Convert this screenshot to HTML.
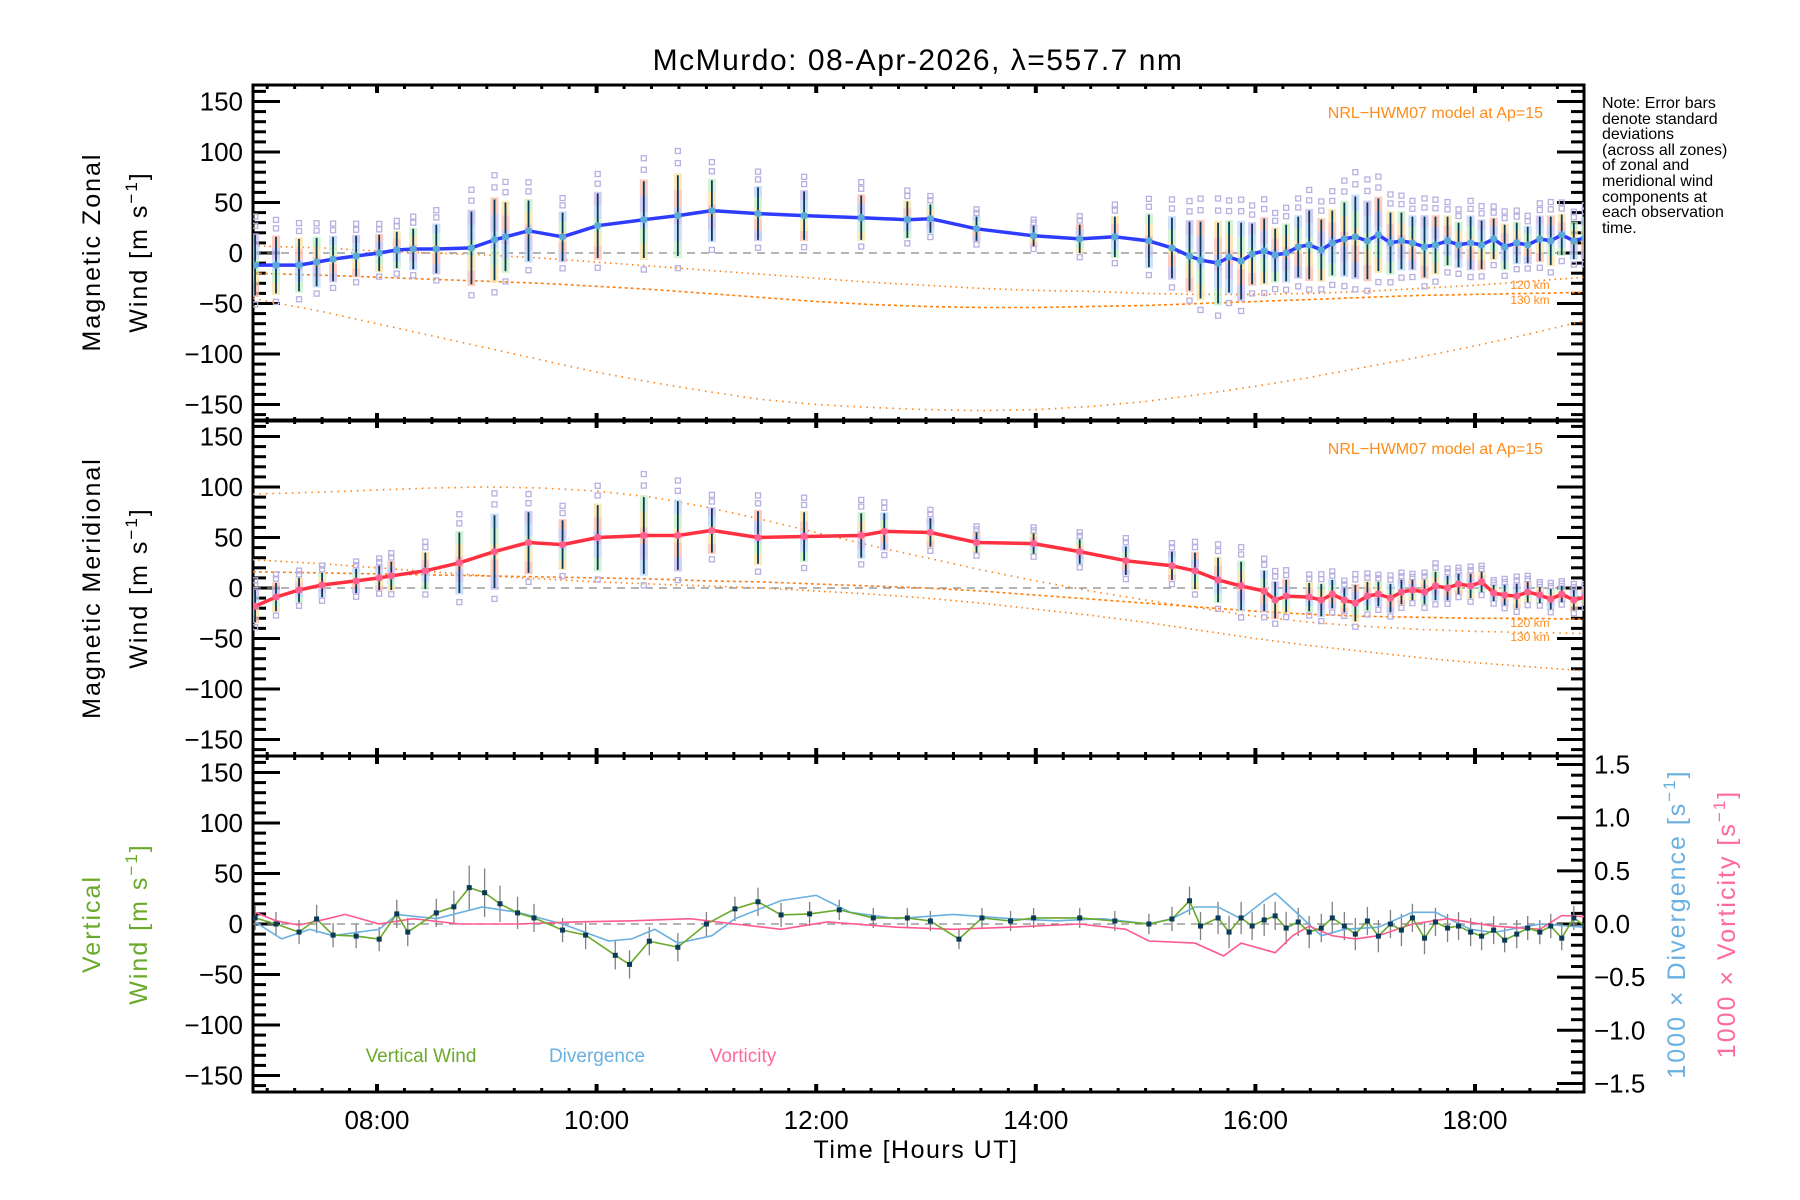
<!DOCTYPE html>
<html><head><meta charset="utf-8"><style>
html,body{margin:0;padding:0;background:#fff}
svg{display:block;font-family:"Liberation Sans",sans-serif}
</style></head><body>
<svg id="chart" width="1800" height="1200" viewBox="0 0 1800 1200" xmlns="http://www.w3.org/2000/svg">
<text x="918" y="70" font-size="30" text-anchor="middle" letter-spacing="1.5">McMurdo: 08-Apr-2026, λ=557.7 nm</text>
<g id="axes"></g>
<g id="marks"></g>
<g font-size="25" letter-spacing="2">
<text transform="translate(100,252) rotate(-90)" text-anchor="middle">Magnetic  Zonal</text>
<text transform="translate(147,252) rotate(-90)" text-anchor="middle">Wind  [m  s<tspan dy="-10" font-size="17">−1</tspan><tspan dy="10">]</tspan></text>
<text transform="translate(100,588) rotate(-90)" text-anchor="middle">Magnetic  Meridional</text>
<text transform="translate(147,588) rotate(-90)" text-anchor="middle">Wind  [m  s<tspan dy="-10" font-size="17">−1</tspan><tspan dy="10">]</tspan></text>
<text transform="translate(100,924) rotate(-90)" text-anchor="middle" fill="#6aaa2a">Vertical</text>
<text transform="translate(147,924) rotate(-90)" text-anchor="middle" fill="#6aaa2a">Wind  [m  s<tspan dy="-10" font-size="17">−1</tspan><tspan dy="10">]</tspan></text>
<text transform="translate(1685,924) rotate(-90)" text-anchor="middle" fill="#6ab0e0">1000 × Divergence  [s<tspan dy="-10" font-size="17">−1</tspan><tspan dy="10">]</tspan></text>
<text transform="translate(1735,924) rotate(-90)" text-anchor="middle" fill="#ff6a9a">1000 × Vorticity  [s<tspan dy="-10" font-size="17">−1</tspan><tspan dy="10">]</tspan></text>
</g>
<text x="916" y="1158" font-size="25" text-anchor="middle" letter-spacing="1.5">Time  [Hours  UT]</text>
<g font-size="16">
<text x="1602" y="108">Note: Error bars</text><text x="1602" y="124">denote standard</text><text x="1602" y="139">deviations</text><text x="1602" y="155">(across all zones)</text><text x="1602" y="170">of zonal and</text><text x="1602" y="186">meridional wind</text><text x="1602" y="202">components at</text><text x="1602" y="217">each observation</text><text x="1602" y="233">time.</text>
</g>
<g font-size="16" fill="#ff8c1a">
<text x="1543" y="118" text-anchor="end">NRL−HWM07 model at Ap=15</text>
<text x="1543" y="454" text-anchor="end">NRL−HWM07 model at Ap=15</text>
<text x="1530" y="289" font-size="12" text-anchor="middle">120 km</text>
<text x="1530" y="304" font-size="12" text-anchor="middle">130 km</text>
<text x="1530" y="627" font-size="12" text-anchor="middle">120 km</text>
<text x="1530" y="641" font-size="12" text-anchor="middle">130 km</text>
</g>
<g font-size="19">
<text x="421" y="1062" text-anchor="middle" fill="#6aaa2a">Vertical Wind</text>
<text x="597" y="1062" text-anchor="middle" fill="#6ab0e0">Divergence</text>
<text x="743" y="1062" text-anchor="middle" fill="#ff6a9a">Vorticity</text>
</g>
</svg>
<script>
// ---------- data ----------
const zonT = [6.89,7.08,7.29,7.45,7.60,7.81,8.02,8.18,8.33,8.54,8.86,9.07,9.17,9.38,9.69,10.01,10.43,10.74,11.05,11.47,11.89,12.41,12.83,13.04,13.46,13.98,14.40,14.72,15.03,15.24,15.40,15.50,15.66,15.76,15.87,15.97,16.08,16.18,16.28,16.39,16.49,16.60,16.70,16.81,16.91,17.02,17.12,17.23,17.33,17.43,17.54,17.64,17.75,17.85,17.96,18.06,18.17,18.27,18.38,18.48,18.59,18.69,18.79,18.90,19.00];
const zonV = [-12,-12,-12,-9,-6,-3,0,3,4,4,5,13,16,22,16,27,33,37,42,39,37,35,33,34,24,17,14,16,12,5,-3,-7,-10,-4,-8,-1,2,-2,0,6,8,3,10,14,16,12,18,10,12,10,6,8,12,8,10,8,14,6,10,8,14,12,18,12,15];
const zonSD = [30,28,26,24,22,20,18,18,20,24,36,40,34,30,24,32,38,40,30,26,24,22,18,14,12,10,14,20,26,30,34,38,40,35,38,30,32,26,28,30,34,30,32,36,40,38,36,30,28,26,30,28,24,22,26,24,20,22,20,18,22,24,20,18,20];
const merT = [6.89,7.08,7.29,7.50,7.81,8.02,8.13,8.44,8.75,9.07,9.38,9.69,10.01,10.43,10.74,11.05,11.47,11.89,12.41,12.62,13.04,13.46,13.98,14.40,14.82,15.24,15.45,15.66,15.87,16.08,16.18,16.28,16.49,16.60,16.70,16.81,16.91,17.02,17.12,17.23,17.33,17.43,17.54,17.64,17.75,17.85,17.96,18.06,18.17,18.27,18.38,18.48,18.59,18.69,18.79,18.90,19.00];
const merV = [-18,-9,-2,3,7,10,12,17,25,36,45,43,50,52,52,57,50,51,52,56,55,45,44,36,27,22,17,8,2,-3,-12,-8,-9,-12,-6,-12,-15,-8,-6,-10,-4,-2,-4,2,0,4,2,6,-5,-7,-8,-4,-7,-11,-6,-12,-9];
const merSD = [16,14,12,12,12,12,14,18,30,36,30,24,32,38,34,22,26,24,22,18,14,10,10,12,14,14,18,22,24,20,18,16,14,16,14,12,18,14,12,14,12,10,12,14,12,10,12,10,8,10,12,10,8,10,8,10,8];
const modelT = [6.87,7.5,8.0,8.5,9.0,9.5,10.0,10.5,11.0,11.5,12.0,12.5,13.0,13.5,14.0,14.5,15.0,15.5,16.0,16.5,17.0,17.5,18.0,18.5,19.0];
const zonModA = [7,5,2,0,-2,-5,-9,-13,-17,-21,-25,-29,-32,-35,-37,-38,-40,-41,-41,-40,-38,-35,-32,-28,-24];
const zonModB = [-20,-22,-24,-26,-28,-30,-33,-36,-40,-44,-48,-51,-53,-54,-54,-53,-52,-50,-48,-46,-44,-42,-41,-40,-39];
const zonModC = [-45,-58,-70,-82,-94,-106,-118,-128,-137,-145,-150,-153,-155,-156,-155,-152,-147,-140,-132,-123,-113,-103,-92,-80,-67];
const merModA = [93,95,97,99,100,99,96,90,80,68,55,42,30,18,7,-3,-12,-20,-28,-34,-38,-41,-43,-44,-45];
const merModB = [28,24,20,16,12,9,6,4,2,0,-3,-6,-10,-15,-21,-27,-34,-42,-50,-57,-63,-69,-74,-78,-82];
const merModC = [16,15,14,13,12,11,10,9,7,6,4,2,0,-3,-7,-11,-15,-19,-23,-26,-28,-29,-30,-30,-31];
const vwT = [6.89,7.08,7.29,7.45,7.60,7.81,8.02,8.18,8.28,8.54,8.70,8.84,8.98,9.12,9.28,9.43,9.69,9.90,10.17,10.30,10.48,10.74,11.00,11.26,11.47,11.68,11.94,12.21,12.52,12.83,13.04,13.30,13.51,13.77,13.98,14.40,14.72,15.03,15.24,15.40,15.50,15.66,15.76,15.87,15.97,16.08,16.18,16.28,16.39,16.49,16.60,16.70,16.81,16.91,17.02,17.12,17.23,17.33,17.43,17.54,17.64,17.75,17.85,17.96,18.06,18.17,18.27,18.38,18.48,18.59,18.69,18.79,18.90,19.00];
const vwV = [6,0,-8,5,-11,-12,-15,10,-8,11,17,36,31,20,11,6,-6,-11,-31,-40,-17,-23,0,15,22,9,10,14,6,6,3,-15,6,3,6,6,3,0,5,23,-2,6,-8,6,-2,4,8,-4,2,-8,-4,6,-2,-10,3,-12,0,-6,6,-14,2,-4,-2,-8,-12,-6,-16,-10,-4,-8,-2,-14,6,-2];
const vwSD = [12,12,12,14,12,12,12,14,14,14,16,22,24,18,16,14,12,14,14,14,14,14,12,12,14,12,12,10,10,10,10,10,10,10,10,10,10,10,12,14,14,16,16,16,14,16,14,16,14,16,14,16,14,16,14,16,14,16,14,16,14,14,14,14,14,14,12,14,12,12,12,12,12,12];
const divT = [6.89,7.13,7.39,7.60,8.02,8.18,8.54,8.96,9.28,9.69,10.11,10.32,10.53,10.74,11.05,11.26,11.68,12.00,12.31,12.73,13.25,13.77,14.19,14.61,15.03,15.24,15.45,15.66,15.87,16.08,16.18,16.34,16.60,16.81,17.12,17.43,17.64,17.96,18.17,18.59,19.00];
const divV = [0.02,-0.14,-0.05,-0.11,-0.05,0.09,0.05,0.16,0.11,0.0,-0.16,-0.14,-0.05,-0.18,-0.11,0.05,0.22,0.27,0.11,0.05,0.09,0.05,0.03,0.05,0.0,0.05,0.16,0.16,0.05,0.22,0.29,0.14,-0.11,-0.05,-0.03,0.11,0.11,-0.05,-0.08,0.0,-0.03];
const vorT = [6.89,7.08,7.29,7.55,7.71,8.02,8.33,8.75,9.28,9.80,10.32,10.85,11.26,11.68,12.10,12.73,13.25,13.77,14.40,14.82,15.03,15.45,15.71,15.87,16.18,16.34,16.49,16.70,16.91,17.12,17.43,17.75,18.17,18.59,18.79,19.00];
const vorV = [0.11,0.03,-0.01,0.05,0.09,0.0,0.05,0.0,0.0,0.02,0.03,0.05,0.0,-0.05,0.02,-0.03,-0.05,-0.03,0.0,-0.05,-0.16,-0.18,-0.3,-0.18,-0.27,-0.11,-0.02,-0.11,-0.14,-0.11,0.0,0.05,-0.02,-0.05,0.08,0.07];
const yTicks = [150,100,50,0,-50,-100,-150];
const yTickLabels = ["150","100","50","0","−50","−100","−150"];
const rTicks = [1.5,1.0,0.5,0.0,-0.5,-1.0,-1.5];
const rTickLabels = ["1.5","1.0","0.5","0.0","−0.5","−1.0","−1.5"];
const xTicks = [8,10,12,14,16,18];
const xTickLabels = ["08:00","10:00","12:00","14:00","16:00","18:00"];

// ---------- geometry ----------
const L=253, R=1584, panels=[85,420,756], PH=336;
const NS='http://www.w3.org/2000/svg';
function xs(h){return 377+(h-8)*109.8;}
function ys(p,v){return panels[p]+PH/2-v*1.01;}
function yr(v){return 924-v*106.3;}
function el(tag,attrs,parent){const e=document.createElementNS(NS,tag);for(const k in attrs)e.setAttribute(k,attrs[k]);parent.appendChild(e);return e;}
const axes=document.getElementById('axes'), marks=document.getElementById('marks');

const defs=el('defs',{},marks);
for(let p=0;p<3;p++){const c=el('clipPath',{id:'clip'+p},defs);el('rect',{x:L,y:panels[p],width:R-L,height:PH},c);}

for(let p=0;p<3;p++){
  const top=panels[p],bot=top+PH;
  const box=el('rect',{x:L,y:top,width:R-L,height:PH,fill:'none',stroke:'#000','stroke-width':3},axes);
  
  
  for(let v=-160;v<=160;v+=10){
    const y=ys(p,v),len=(v%50===0)?27:13;
    el('line',{x1:L,x2:L+len,y1:y,y2:y,stroke:'#000','stroke-width':3},axes);
    if(p<2)el('line',{x1:R,x2:R-len,y1:y,y2:y,stroke:'#000','stroke-width':3},axes);
  }
  yTicks.forEach((v,i)=>{
    const t=el('text',{x:243,y:ys(p,v)+9,'font-size':26,'text-anchor':'end'},axes);
    t.textContent=yTickLabels[i];
    
    
  });
  for(let m=6*60+60;m<=19*60;m+=15){
    const h=m/60,x=xs(h);if(x<L||x>R)continue;
    const major=(m%120===0),len=major?8:4;
    el('line',{x1:x,x2:x,y1:top,y2:top+len,stroke:'#000','stroke-width':major?4:3},axes);
    el('line',{x1:x,x2:x,y1:bot,y2:bot-len,stroke:'#000','stroke-width':major?4:3},axes);
  }
  el('line',{x1:L,x2:R,y1:ys(p,0),y2:ys(p,0),stroke:'#888','stroke-width':1.2,'stroke-dasharray':'8,6'},marks);
}
for(let i=-16;i<=16;i++){
  const v=i/10,y=yr(v);if(y<756||y>1092)continue;
  const len=(i%5===0)?27:13;
  el('line',{x1:R,x2:R-len,y1:y,y2:y,stroke:'#000','stroke-width':3},axes);
}
rTicks.forEach((v,i)=>{
  const t=el('text',{x:1594,y:yr(v)+9,'font-size':26},axes);
  t.textContent=rTickLabels[i];
  
  
});
xTicks.forEach((h,i)=>{
  const t=el('text',{x:xs(h),y:1129,'font-size':26,'text-anchor':'middle'},axes);
  t.textContent=xTickLabels[i];
  
  
});

function pathFrom(T,V,fx,fy){return T.map((t,i)=>(i?'L':'M')+fx(t).toFixed(1)+','+fy(V[i]).toFixed(1)).join('');}

function model(p,V,dash,name){
  const g=el('path',{d:pathFrom(modelT,V,xs,v=>ys(p,v)),fill:'none',stroke:'#ff7f0e','stroke-width':1.6,'stroke-dasharray':dash,'clip-path':'url(#clip'+p+')'},marks);
  
  
}
model(0,zonModA,'1.5,4','zonal-model-a');model(0,zonModB,'3,3','zonal-model-b');model(0,zonModC,'1.5,5','zonal-model-c');
model(1,merModA,'1.5,5','meridional-model-a');model(1,merModB,'1.5,4','meridional-model-b');model(1,merModC,'3,3','meridional-model-c');

const pastel=['#f9c0b0','#fbe3a8','#c8f0c8','#c0d8f8','#c8c0f0'];
function windPanel(p,T,V,SD,lineCol,dotCol,name){
  const g=el('g',{'clip-path':'url(#clip'+p+')'},marks);
  
  
  T.forEach((t,i)=>{
    const x=xs(t),v=V[i],s=SD[i];
    for(let k=0;k<5;k++){
      const lo=v-s*1.05+k*(2.1*s/5),hi=lo+2.1*s/5;
      const r=el('rect',{x:x-4,y:ys(p,hi),width:8,height:Math.max(1,ys(p,lo)-ys(p,hi)),fill:pastel[(k+i)%5],opacity:0.8},g);
      
      
    }
    [v+s*1.3,v+s*1.6,v-s*1.3].forEach(z=>{
      const q=el('rect',{x:x-2.5,y:ys(p,z)-2.5,width:5,height:5,fill:'none',stroke:'#b8b0e0','stroke-width':1.3},g);
      
      
    });
    const eb=el('line',{x1:x,x2:x,y1:ys(p,v+s),y2:ys(p,v-s),stroke:'#0a3a5a','stroke-width':1.8},g);
    
    
  });
  const ln=el('path',{d:pathFrom(T,V,xs,v=>ys(p,v)),fill:'none',stroke:lineCol,'stroke-width':3.5,'stroke-linejoin':'round'},g);
  
  
  T.forEach((t,i)=>{
    const c=el('circle',{cx:xs(t),cy:ys(p,V[i]),r:3.6,fill:dotCol},g);
    
    
  });
}
windPanel(0,zonT,zonV,zonSD,'#2f3cff','#5aaad8','zonal-wind');
windPanel(1,merT,merV,merSD,'#ff3040','#ff6090','meridional-wind');

const g3=el('g',{'clip-path':'url(#clip2)'},marks);


vwT.forEach((t,i)=>{
  const b=el('line',{x1:xs(t),x2:xs(t),y1:ys(2,vwV[i]+vwSD[i]),y2:ys(2,vwV[i]-vwSD[i]),stroke:'#808080','stroke-width':1.3},g3);
  
  
});
const dv=el('path',{d:pathFrom(divT,divV,xs,yr),fill:'none',stroke:'#6ab0e0','stroke-width':1.6},g3);


const vo=el('path',{d:pathFrom(vorT,vorV,xs,yr),fill:'none',stroke:'#ff5a90','stroke-width':1.6},g3);


const vw=el('path',{d:pathFrom(vwT,vwV,xs,v=>ys(2,v)),fill:'none',stroke:'#6aaa2a','stroke-width':1.6},g3);


vwT.forEach((t,i)=>{
  const q=el('rect',{x:xs(t)-2.5,y:ys(2,vwV[i])-2.5,width:5,height:5,fill:'#0a3a5a'},g3);
  
  
});
</script>
</body></html>
